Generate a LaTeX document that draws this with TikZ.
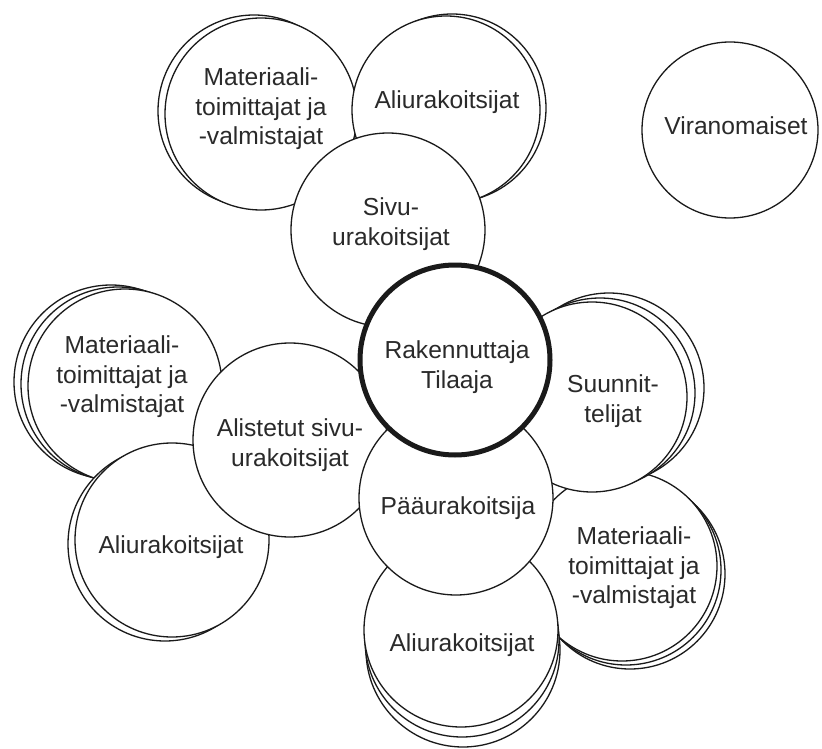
\documentclass[tikz,border=0pt]{standalone}
\usepackage{fontspec}
\setmainfont{Liberation Sans}
\definecolor{ink}{HTML}{1A1A1A}
\definecolor{txtc}{HTML}{2A2A2A}
\tikzset{
  disc/.style={circle, draw=ink, fill=white, line width=1.3pt, minimum size=#1, inner sep=0pt},
  maindisc/.style={circle, draw=ink, fill=white, line width=5pt, minimum size=#1, inner sep=0pt},
  lbl/.style={align=center, text=txtc, inner sep=0pt, font=\fontsize{24.6}{29.5}\selectfont}
}
\begin{document}
\begin{tikzpicture}[x=1pt,y=-1pt]
\useasboundingbox (0,0) rectangle (822,749);
% top group
\node[disc=192] (topmatB) at (254,111) {};
\node[disc=192] (topmat) at (261,114) {};
\node[lbl] (topmatT) at (261,109) {Materiaali-\\toimittajat ja\\-valmistajat};
\node[disc=188] (topaliB) at (452,108) {};
\node[disc=188] (topali) at (446,110) {};
\node[lbl] (topaliT) at (447,102) {Aliurakoitsijat};
\node[disc=194] (sivu) at (388,230) {};
\node[lbl] (sivuT) at (391,224) {Sivu-\\urakoitsijat};
% left group
\node[disc=194] (leftmatB2) at (111,382) {};
\node[disc=194] (leftmatB1) at (118,384) {};
\node[disc=194] (leftmat) at (125,386) {};
\node[lbl] (leftmatT) at (122,377) {Materiaali-\\toimittajat ja\\-valmistajat};
\node[disc=194] (leftaliB) at (165,544) {};
\node[disc=194] (leftali) at (172,540) {};
\node[lbl] (leftaliT) at (171,547) {Aliurakoitsijat};
\node[disc=194] (alist) at (290,440) {};
\node[lbl] (alistT) at (290,445) {Alistetut sivu-\\urakoitsijat};
% right/bottom group
\node[disc=190] (rightmatB2) at (630,574) {};
\node[disc=190] (rightmatB1) at (626,570) {};
\node[disc=190] (rightmat) at (622,566) {};
\node[lbl] (rightmatT) at (634,568) {Materiaali-\\toimittajat ja\\-valmistajat};
\node[disc=194] (botaliB2) at (463,650) {};
\node[disc=194] (botaliB1) at (462,640) {};
\node[disc=194] (botali) at (461,630) {};
\node[lbl] (botaliT) at (462,645) {Aliurakoitsijat};
\node[disc=190] (suunB2) at (609,388) {};
\node[disc=190] (suunB1) at (600,393) {};
\node[disc=190] (suun) at (592,397) {};
\node[lbl] (suunT) at (613,401) {Suunnit-\\telijat};
\node[disc=194] (paa) at (456,498) {};
\node[lbl] (paaT) at (458,508) {Pääurakoitsija};
% centre
\node[maindisc=190] (rak) at (455,360) {};
\node[lbl] (rakT) at (457,367) {Rakennuttaja\\Tilaaja};
% authorities
\node[disc=176] (viran) at (730,130) {};
\node[lbl] (viranT) at (736,126) {Viranomaiset};
\end{tikzpicture}
\end{document}
